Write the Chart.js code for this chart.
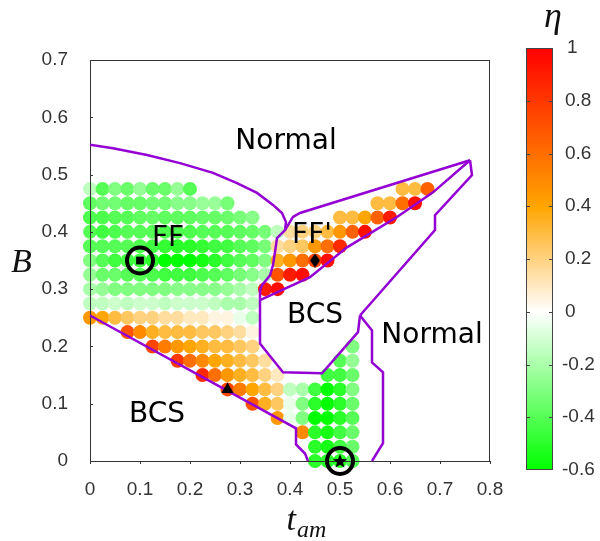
<!DOCTYPE html>
<html><head><meta charset="utf-8">
<script src="https://cdn.jsdelivr.net/npm/chart.js@4/dist/chart.umd.min.js"></script>
<style>html,body{margin:0;padding:0;background:#fff}#wrap{width:600px;height:541px;position:relative}</style>
</head><body><div id="wrap"><canvas id="c" width="600" height="541"></canvas></div>
<script>
// ---------------- data ----------------
const X_TICKS = [0,0.1,0.2,0.3,0.4,0.5,0.6,0.7,0.8];
const X_TICK_LABELS = ['0','0.1','0.2','0.3','0.4','0.5','0.6','0.7','0.8'];
const Y_TICKS = [0,0.1,0.2,0.3,0.4,0.5,0.6,0.7];
const Y_TICK_LABELS = ['0','0.1','0.2','0.3','0.4','0.5','0.6','0.7'];
const CB_TICKS = [1,0.8,0.6,0.4,0.2,0,-0.2,-0.4,-0.6];
const CB_TICK_LABELS = ['1','0.8','0.6','0.4','0.2','0','-0.2','-0.4','-0.6'];

const T_COLS = [0,0.025,0.05,0.075,0.1,0.125,0.15,0.175,0.2,0.225,0.25,0.275,0.3,0.325,0.35,0.375,0.4,0.425,0.45,0.475,0.5,0.525,0.55,0.575,0.6,0.625,0.65,0.675];
const B_ROWS = [0,0.025,0.05,0.075,0.1,0.125,0.15,0.175,0.2,0.225,0.25,0.275,0.3,0.325,0.35,0.375,0.4,0.425,0.45,0.475];
const n = null;
// eta per row (columns follow T_COLS)
const eta_B0000 = [n,n,n,n,n,n,n,n,n,n, n,n,n,n,n,n,n,n,-0.5,-0.5, -0.5,-0.4,n,n,n,n,n,n];
const eta_B0025 = [n,n,n,n,n,n,n,n,n,n, n,n,n,n,n,n,n,n,-0.5,-0.55, -0.45,-0.35,n,n,n,n,n,n];
const eta_B0050 = [n,n,n,n,n,n,n,n,n,n, n,n,n,n,n,n,n,0.5,-0.5,-0.55, -0.45,-0.35,n,n,n,n,n,n];
const eta_B0075 = [n,n,n,n,n,n,n,n,n,n, n,n,n,n,n,0.45,-0.05,-0.3,-0.6,-0.6, -0.5,-0.4,n,n,n,n,n,n];
const eta_B0100 = [n,n,n,n,n,n,n,n,n,n, n,n,n,0.7,0.35,0.25,-0.05,-0.3,-0.5,-0.6, -0.5,-0.35,n,n,n,n,n,n];
const eta_B0125 = [n,n,n,n,n,n,n,n,n,n, n,0.75,0.55,0.4,0.3,0.2,-0.15,-0.2,-0.45,-0.6, -0.5,-0.3,n,n,n,n,n,n];
const eta_B0150 = [n,n,n,n,n,n,n,n,n,0.85, 0.6,0.45,0.35,0.3,0.2,0.1,n,n,n,-0.45, -0.45,-0.35,n,n,n,n,n,n];
const eta_B0175 = [n,n,n,n,n,n,n,0.8,0.6,0.5, 0.4,0.35,0.3,0.25,0.15,n,n,n,n,n, -0.4,-0.25,n,n,n,n,n,n];
const eta_B0200 = [n,n,n,n,n,0.75,0.55,0.45,0.4,0.35, 0.3,0.3,0.25,0.2,n,n,n,n,n,n, n,-0.3,n,n,n,n,n,n];
const eta_B0225 = [n,n,n,0.7,0.5,0.35,0.3,0.3,0.3,0.25, 0.25,0.2,0.15,0.05,n,n,n,n,n,n, n,n,n,n,n,n,n,n];
const eta_B0250 = [0.45,0.4,0.3,0.25,0.2,0.2,0.15,0.15,0.1,0.1, 0.05,0.05,-0.05,-0.15,n,n,n,n,n,n, n,n,n,n,n,n,n,n];
const eta_B0275 = [-0.15,-0.15,-0.12,-0.15,-0.12,-0.12,-0.15,-0.12,-0.12,-0.12, -0.15,-0.2,-0.2,-0.15,n,n,n,n,n,n, n,n,n,n,n,n,n,n];
const eta_B0300 = [-0.2,-0.25,-0.3,-0.3,-0.3,-0.3,-0.3,-0.28,-0.28,-0.28, -0.28,-0.25,-0.2,-0.15,0.9,0.95,n,n,n,n, n,n,n,n,n,n,n,n];
const eta_B0325 = [-0.25,-0.35,-0.35,-0.4,-0.4,-0.42,-0.45,-0.45,-0.45,-0.42, -0.4,-0.38,-0.32,-0.28,-0.2,0.7,0.9,0.95,n,n, n,n,n,n,n,n,n,n];
const eta_B0350 = [-0.3,-0.4,-0.45,-0.45,-0.45,-0.5,-0.6,-0.6,-0.6,-0.55, -0.5,-0.45,-0.4,-0.38,-0.3,0.35,0.45,0.6,0.75,0.95, n,n,n,n,n,n,n,n];
const eta_B0375 = [-0.4,-0.4,-0.4,-0.4,-0.42,-0.45,-0.48,-0.5,-0.5,-0.48, -0.45,-0.45,-0.4,-0.38,-0.32,0.15,0.2,0.25,0.45,0.6, 0.85,n,n,n,n,n,n,n];
const eta_B0400 = [-0.4,-0.45,-0.42,-0.4,-0.4,-0.4,-0.42,-0.42,-0.42,-0.4, -0.4,-0.4,-0.38,-0.36,-0.32,-0.15,0.15,0.2,0.2,0.3, 0.45,0.65,0.95,n,n,n,n,n];
const eta_B0425 = [-0.42,-0.42,-0.4,-0.4,-0.38,-0.36,-0.38,-0.38,-0.38,-0.36, -0.36,-0.35,-0.32,-0.28,n,n,n,n,n,n, 0.3,0.3,0.4,0.65,0.9,n,n,n];
const eta_B0450 = [-0.38,-0.33,-0.33,-0.36,-0.36,-0.33,-0.33,-0.28,-0.28,-0.24, -0.24,-0.32,n,n,n,n,n,n,n,n, n,n,n,0.3,0.3,0.6,0.95,n];
const eta_B0475 = [-0.15,-0.4,-0.3,-0.35,-0.25,-0.35,-0.35,-0.25,-0.4,n, n,n,n,n,n,n,n,n,n,n, n,n,n,n,n,0.3,0.3,0.65];
const ETA_ROWS = [eta_B0000,eta_B0025,eta_B0050,eta_B0075,eta_B0100,eta_B0125,eta_B0150,eta_B0175,eta_B0200,eta_B0225,
  eta_B0250,eta_B0275,eta_B0300,eta_B0325,eta_B0350,eta_B0375,eta_B0400,eta_B0425,eta_B0450,eta_B0475];

// phase boundaries [t_am, B]
const lineFF = [[0,0.552],[0.046,0.546],[0.114,0.534],[0.18,0.52],[0.246,0.503],[0.294,0.485],[0.334,0.468],[0.366,0.447],[0.384,0.433],[0.392,0.417],[0.39,0.403],[0.374,0.389],[0.37,0.3645],[0.366,0.342],[0.36,0.324],[0.344,0.307],[0.34,0.298],[0.34,0.205],[0.386,0.155],[0.464,0.153],[0.536,0.225],[0.54,0.254]];
const lineFFpUpper = [[0.39,0.403],[0.406,0.426],[0.42,0.433],[0.76,0.525]];
const lineFFpLower = [[0.34,0.281],[0.44,0.321],[0.514,0.373],[0.614,0.426],[0.686,0.469],[0.76,0.525]];
const lineUpperRight = [[0.76,0.525],[0.764,0.499],[0.69,0.429],[0.69,0.403],[0.54,0.254]];
const lineRightNormal = [[0.54,0.254],[0.564,0.228],[0.564,0.172],[0.586,0.155],[0.586,0.031],[0.564,0.0]];
const lineLowerLeft = [[0,0.254],[0.412,0.057],[0.412,0.029],[0.43,0.013],[0.436,0.0]];

// special points
const markerFF = [[0.1,0.35]];
const markerFFprime = [[0.45,0.35]];
const markerBCS = [[0.275,0.125]];
const markerStar = [[0.5,0]];
const ringPoints = [[0.1,0.35],[0.5,0]];

// region labels [text, t_am, B]
const regionLabels = [['Normal',0.392,0.562],['FF',0.156,0.392],["FF'",0.444,0.398],['BCS',0.45,0.258],['Normal',0.684,0.223],['BCS',0.134,0.085]];

// ---------------- colour map ----------------
function etaColor(v){
  let r,g,b;
  if (v <= 0){ const f = Math.max(0,(v+0.6)/0.6); r=255*f; g=255; b=255*f; }
  else if (v <= 0.4){ const f=v/0.4; r=255; g=255-90*f; b=255*(1-f); }
  else { const f=Math.min(1,(v-0.4)/0.6); r=255; g=165*(1-f); b=0; }
  return `rgb(${Math.round(r)},${Math.round(g)},${Math.round(b)})`;
}

const dots = [];
ETA_ROWS.forEach((row,j)=>row.forEach((v,i)=>{ if(v!==null) dots.push({x:T_COLS[i], y:B_ROWS[j], v:v}); }));
const toPts = a => a.map(p=>({x:p[0], y:p[1]}));

// custom marker images
function starImg(){
  const c=document.createElement('canvas'); c.width=16; c.height=16; const g=c.getContext('2d');
  g.fillStyle='#000'; g.beginPath();
  for(let k=0;k<10;k++){ const r=k%2?3.2:7.5; const a=-Math.PI/2+k*Math.PI/5; g.lineTo(8+r*Math.cos(a),8.5+r*Math.sin(a)); }
  g.closePath(); g.fill(); return c;
}
function diamondImg(){
  const c=document.createElement('canvas'); c.width=10; c.height=14; const g=c.getContext('2d');
  g.fillStyle='#000'; g.beginPath(); g.moveTo(5,0); g.lineTo(10,7); g.lineTo(5,14); g.lineTo(0,7); g.closePath(); g.fill(); return c;
}

const PURPLE = '#9400d3';
function boundary(data){ return {data: toPts(data), showLine:true, borderColor:PURPLE, borderWidth:2.5, pointRadius:0, pointHoverRadius:0, order:2, clip:false}; }

const overlay = {
  id:'overlay',
  afterDatasetDraw(chart,args){
    if(args.index!==0) return;
    const {ctx, chartArea:a, scales:{x,y}} = chart;
    ctx.save();
    ctx.strokeStyle='#333'; ctx.lineWidth=1;
    ctx.strokeRect(a.left+0.5,a.top+0.5,a.right-a.left-1,a.bottom-a.top);
    ctx.beginPath();
    X_TICKS.forEach(t=>{const px=Math.round(x.getPixelForValue(t))+0.5; ctx.moveTo(px,a.bottom); ctx.lineTo(px,a.bottom+3);});
    Y_TICKS.forEach(t=>{const py=Math.round(y.getPixelForValue(t))+0.5; ctx.moveTo(a.left,py); ctx.lineTo(a.left+3,py);});
    ctx.stroke();
    ctx.restore();
  },
  afterDraw(chart){
    const {ctx, chartArea:a, scales:{x,y}} = chart;
    ctx.save();
    // region labels
    ctx.fillStyle='#000'; ctx.font='28px "DejaVu Sans"'; ctx.textAlign='center'; ctx.textBaseline='alphabetic';
    regionLabels.forEach(([s,t,b])=>ctx.fillText(s, x.getPixelForValue(t), y.getPixelForValue(b)+10));
    // axis titles
    ctx.fillStyle='#111';
    ctx.textAlign='left';
    ctx.font='italic 34px "Liberation Serif"';
    ctx.fillText('B', 11, 272);
    const cx=(a.left+a.right)/2;
    ctx.font='italic 34px "Liberation Serif"'; const wt=ctx.measureText('t').width;
    ctx.font='italic 24px "Liberation Serif"'; const wam=ctx.measureText('am').width;
    const x0=cx-(wt+wam)/2+16;
    ctx.font='italic 34px "Liberation Serif"'; ctx.fillText('t', x0, 530);
    ctx.font='italic 24px "Liberation Serif"'; ctx.fillText('am', x0+wt+1, 537);
    ctx.font='italic 36px "Liberation Serif"'; ctx.textAlign='center'; ctx.fillText('\u03B7', 553, 27);
    // colour bar
    const L=526,R=553,T=48,Bt=470;
    const g=ctx.createLinearGradient(0,Bt,0,T);
    g.addColorStop(0,etaColor(-0.6)); g.addColorStop(0.375,etaColor(0)); g.addColorStop(0.625,etaColor(0.4)); g.addColorStop(1,etaColor(1));
    ctx.fillStyle=g; ctx.fillRect(L,T,R-L,Bt-T);
    ctx.strokeStyle='#444'; ctx.lineWidth=1; ctx.strokeRect(L+0.5,T+0.5,R-L-1,Bt-T-1);
    const cy=v=>Bt-(v+0.6)/1.6*(Bt-T);
    ctx.beginPath();
    CB_TICKS.forEach(v=>{ if(v===1||v===-0.6) return; const py=Math.round(cy(v))+0.5; ctx.moveTo(L,py); ctx.lineTo(L+4,py); ctx.moveTo(R-4,py); ctx.lineTo(R,py); });
    ctx.stroke();
    ctx.fillStyle='#333'; ctx.font='19px "Liberation Sans"'; ctx.textAlign='left'; ctx.textBaseline='middle';
    CB_TICKS.forEach((v,k)=>ctx.fillText(CB_TICK_LABELS[k], CB_TICK_LABELS[k]==='1'?567:(v<0?562:565), cy(v)));
    ctx.restore();
  }
};

new Chart(document.getElementById('c'), {
  type:'scatter',
  data:{ datasets:[
    {data:dots, pointRadius:7, pointHoverRadius:7, borderWidth:0, pointStyle:'circle',
     backgroundColor:c=>c.raw?etaColor(c.raw.v):'#fff', order:3, clip:false},
    boundary(lineFF), boundary(lineFFpUpper), boundary(lineFFpLower), boundary(lineUpperRight), boundary(lineRightNormal), boundary(lineLowerLeft),
    {data:toPts(ringPoints), pointStyle:'circle', pointRadius:13, borderWidth:4, borderColor:'#000', backgroundColor:'rgba(0,0,0,0)', order:1, clip:false},
    {data:toPts(markerFF), pointStyle:'rect', pointRadius:5.5, borderWidth:0, backgroundColor:'#000', order:1, clip:false},
    {data:toPts(markerFFprime), pointStyle:diamondImg(), order:1, clip:false},
    {data:toPts(markerBCS), pointStyle:'triangle', pointRadius:7, borderWidth:0, backgroundColor:'#000', order:1, clip:false},
    {data:toPts(markerStar), pointStyle:starImg(), order:1, clip:false}
  ]},
  options:{
    responsive:false, animation:false, devicePixelRatio:1, events:[],
    layout:{padding:{left:0, right:110, top:60, bottom:0}},
    plugins:{legend:{display:false}, tooltip:{enabled:false}},
    scales:{
      x:{type:'linear', min:0, max:0.8, grid:{display:false, drawTicks:false}, border:{display:false},
         afterBuildTicks:s=>{s.ticks=X_TICKS.map(v=>({value:v}));},
         afterFit:s=>{s.height=80;},
         ticks:{padding:17, color:'#333', font:{family:'Liberation Sans', size:19}, maxRotation:0, autoSkip:false,
                callback:(v,i)=>X_TICK_LABELS[i]}},
      y:{type:'linear', min:0, max:0.7, grid:{display:false, drawTicks:false}, border:{display:false},
         afterBuildTicks:s=>{s.ticks=Y_TICKS.map(v=>({value:v}));},
         afterFit:s=>{s.width=90;},
         ticks:{padding:22, color:'#333', font:{family:'Liberation Sans', size:19}, autoSkip:false,
                callback:(v,i)=>Y_TICK_LABELS[i]}}
    }
  },
  plugins:[overlay]
});
</script></body></html>
